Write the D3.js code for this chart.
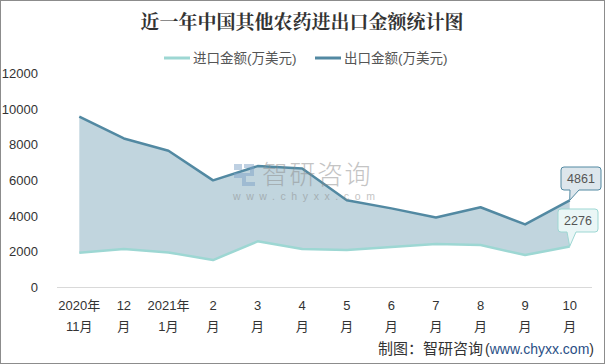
<!DOCTYPE html>
<html><head><meta charset="utf-8">
<script src="https://cdn.jsdelivr.net/npm/d3@7"></script>
<style>body{margin:0;background:#fff}svg{display:block}</style>
</head><body>
<svg id="c" width="605" height="364"></svg>
<script>
const months1 = ["2020年","12","2021年","2","3","4","5","6","7","8","9","10"];
const months2 = ["11月","月","1月","月","月","月","月","月","月","月","月","月"];
const importVals = [1920, 2130, 1940, 1510, 2560, 2130, 2070, 2240, 2410, 2350, 1790, 2276];
const exportVals = [9550, 8330, 7640, 5980, 6780, 6650, 4870, 4410, 3900, 4470, 3510, 4861];
const yTicks = [0, 2000, 4000, 6000, 8000, 10000, 12000];
const seriesNames = ["进口金额(万美元)", "出口金额(万美元)"];
const title = "近一年中国其他农药进出口金额统计图";
const sourceParts = ["制图：智研咨询", "(", "www.chyxx.com", ")"];

const svg = d3.select("#c");
const font = "'Liberation Sans','Noto Sans CJK SC',sans-serif";
const cImp = "#9dd7d3", cExp = "#5289a2", cArea = "#bed3dc";

svg.append("rect").attr("x",0.5).attr("y",0.5).attr("width",604).attr("height",363)
  .attr("fill","#fff").attr("stroke","#8c8c8c").attr("stroke-width",1);

const x = d3.scaleBand().domain(d3.range(12)).range([57, 592]);
const y = d3.scaleLinear().domain([0, 12000]).range([287, 73]);
const cx = i => x(i) + x.bandwidth()/2;

// title
svg.append("text").attr("x",302).attr("y",29).attr("text-anchor","middle")
  .attr("font-family","'Noto Serif CJK SC','Noto Sans CJK SC',serif").attr("font-weight","bold")
  .attr("font-size",19).attr("fill","#333").text(title);

// legend
const leg = [{n:seriesNames[0],c:cImp,x:164},{n:seriesNames[1],c:cExp,x:315}];
leg.forEach(l=>{
  svg.append("line").attr("x1",l.x).attr("x2",l.x+26).attr("y1",58).attr("y2",58)
    .attr("stroke",l.c).attr("stroke-width",3);
  svg.append("text").attr("x",l.x+29).attr("y",63).attr("font-family",font)
    .attr("font-size",13.5).attr("fill","#555").text(l.n);
});

// y axis labels
svg.append("g").selectAll("text").data(yTicks).join("text")
  .attr("x",38).attr("y",d=>y(d)+5).attr("text-anchor","end")
  .attr("font-family",font).attr("font-size",13).attr("fill","#333").text(d=>d);

// baseline
svg.append("line").attr("x1",57).attr("x2",592).attr("y1",y(0)+0.5).attr("y2",y(0)+0.5)
  .attr("stroke","#d9d9d9").attr("stroke-width",1);

// x labels
const xl = svg.append("g").attr("font-family",font).attr("font-size",13).attr("fill","#333").attr("text-anchor","middle");
months1.forEach((m,i)=>{
  xl.append("text").attr("x",cx(i)).attr("y",310).text(m);
  xl.append("text").attr("x",cx(i)).attr("y",331).text(months2[i]);
});

// area between
const area = d3.area().x((d,i)=>cx(i)).y0((d,i)=>y(importVals[i])).y1(d=>y(d));
svg.append("path").datum(exportVals).attr("d",area).attr("fill",cArea).attr("opacity",0.95);

const line = d3.line().x((d,i)=>cx(i)).y(d=>y(d));
svg.append("path").datum(importVals).attr("d",line).attr("fill","none").attr("stroke",cImp).attr("stroke-width",2.5).attr("stroke-linejoin","round");
svg.append("path").datum(exportVals).attr("d",line).attr("fill","none").attr("stroke",cExp).attr("stroke-width",2.5).attr("stroke-linejoin","round");

// watermark (on top, translucent)
const wm = svg.append("g").attr("opacity",0.5);
wm.append("rect").attr("x",234).attr("y",164).attr("width",8).attr("height",6).attr("fill","#7fa3c7");
wm.append("rect").attr("x",234).attr("y",173).attr("width",8).attr("height",5).attr("fill","#7fa3c7");
wm.append("path").attr("d","M244,164 h10 v12 h-8 v6 h9 v4 h-13 v-13 h8 v-5 h-6 z").attr("fill","#7fa3c7");
wm.append("text").attr("x",262).attr("y",184).attr("font-family","'Noto Sans CJK SC',sans-serif")
  .attr("font-weight",300).attr("font-size",26).attr("fill","#8a8a8a").attr("letter-spacing",1.5).text("智研咨询");
wm.append("text").attr("x",233).attr("y",200).attr("font-family",font)
  .attr("font-size",10.5).attr("fill","#8a8a8a").attr("letter-spacing",5.6).text("www.chyxx.com");

// callouts
function callout(val, bx, by, fill, stroke){
  const px = cx(11), py = y(val);
  const w = 40, h = 23, r = 3;
  const p = `M${bx+r},${by} H${bx+w-r} Q${bx+w},${by} ${bx+w},${by+r} V${by+h-r} Q${bx+w},${by+h} ${bx+w-r},${by+h}
    H${bx+18} L${px},${py} L${bx+9},${by+h} H${bx+r} Q${bx},${by+h} ${bx},${by+h-r} V${by+r} Q${bx},${by} ${bx+r},${by} Z`;
  svg.append("path").attr("d",p).attr("fill",fill).attr("stroke",stroke).attr("stroke-width",1);
  svg.append("text").attr("x",bx+w/2).attr("y",by+16).attr("text-anchor","middle")
    .attr("font-family",font).attr("font-size",12.5).attr("fill","#555").text(val);
}
callout(exportVals[11], 561, 167, "#dde6ec", cExp);
callout(importVals[11], 558, 209, "#eaf6f6", cImp);

// source
const src = svg.append("text").attr("x",594).attr("y",354).attr("text-anchor","end")
  .attr("font-family",font).attr("font-size",14).attr("fill","#333");
src.append("tspan").attr("font-size",15).text(sourceParts[0]);
src.append("tspan").attr("dx",2).text(sourceParts[1]);
src.append("tspan").attr("fill","#2a4f86").text(sourceParts[2]);
src.append("tspan").text(sourceParts[3]);
</script>
</body></html>
